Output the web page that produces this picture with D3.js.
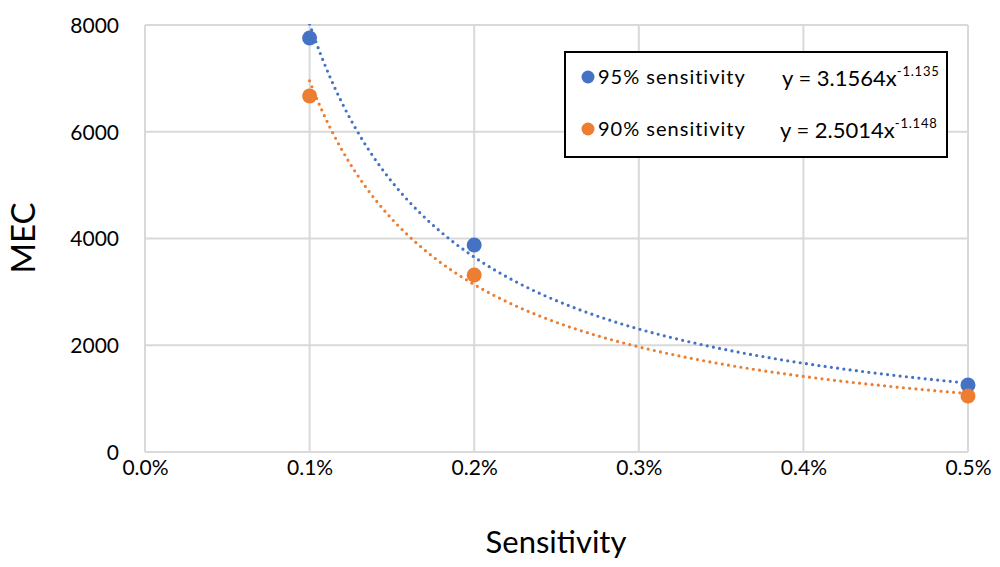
<!DOCTYPE html>
<html>
<head>
<meta charset="utf-8">
<script src="https://cdn.jsdelivr.net/npm/d3@7"></script>
<style>
  html, body { margin: 0; padding: 0; background: #fff; }
  svg { display: block; font-family: "Lato", "Open Sans", sans-serif; }
</style>
</head>
<body>
<svg id="chart" width="1000" height="567"></svg>
<script>
// Observed sensitivities (as fractions) and MEC values
const sensitivities = [0.001, 0.002, 0.005];
const mec95 = [7756, 3878, 1255];
const mec90 = [6670, 3316, 1049];

// Power-law fits y = a * x^b
const fit95 = { a: 3.1564, b: -1.135, label: "95% sensitivity", coef: "3.1564", exp: "-1.135" };
const fit90 = { a: 2.5014, b: -1.148, label: "90% sensitivity", coef: "2.5014", exp: "-1.148" };

const xTicks = [0, 0.001, 0.002, 0.003, 0.004, 0.005];
const yTicks = [0, 2000, 4000, 6000, 8000];

const blue = "#4472C4", orange = "#ED7D31", grid = "#d9d9d9";

const svg = d3.select("#chart");
const plotL = 145, plotR = 968, plotT = 25, plotB = 452;

const x = d3.scaleLinear().domain([0, 0.005]).range([plotL, plotR]);
const y = d3.scaleLinear().domain([0, 8000]).range([plotB, plotT]);

// Grid lines
svg.append("g").selectAll("line").data(xTicks).join("line")
  .attr("x1", d => x(d)).attr("x2", d => x(d))
  .attr("y1", plotT).attr("y2", plotB)
  .attr("stroke", grid).attr("stroke-width", 2);
svg.append("g").selectAll("line").data(yTicks).join("line")
  .attr("x1", plotL).attr("x2", plotR)
  .attr("y1", d => y(d)).attr("y2", d => y(d))
  .attr("stroke", grid).attr("stroke-width", 2);

// Axis tick labels
const xAxis = d3.axisBottom(x).tickValues(xTicks).tickFormat(d3.format(".1%")).tickSize(0).tickPadding(0);
const gx = svg.append("g").attr("transform", `translate(0,${plotB})`).call(xAxis);
gx.select(".domain").remove();
gx.selectAll("text").attr("font-size", 21).attr("fill", "#000")
  .attr("font-family", "Lato, sans-serif").attr("dy", null).attr("y", 23);

const yAxis = d3.axisLeft(y).tickValues(yTicks).tickFormat(d3.format("d")).tickSize(0).tickPadding(0);
const gy = svg.append("g").attr("transform", `translate(119,0)`).call(yAxis);
gy.select(".domain").remove();
gy.selectAll("text").attr("font-size", 21).attr("fill", "#000")
  .attr("font-family", "Lato, sans-serif").attr("dy", "0.35em");

// Axis titles
svg.append("text").attr("x", 556).attr("y", 553).attr("text-anchor", "middle")
  .attr("font-size", 31).attr("fill", "#000").text("Sensitivity");
svg.append("text").attr("transform", "translate(35,238) rotate(-90)").attr("text-anchor", "middle")
  .attr("font-size", 33).attr("fill", "#000").text("MEC");

// Trend lines, clipped to the plot area
svg.append("clipPath").attr("id", "plot-clip").append("rect")
  .attr("x", plotL).attr("y", plotT - 1).attr("width", plotR - plotL).attr("height", plotB - plotT + 1);

const trendXs = d3.range(0, 201).map(i => 0.001 + i * (0.004 / 200));
const line = d3.line().x(d => x(d[0])).y(d => y(d[1]));

[[fit95, blue], [fit90, orange]].forEach(([f, c]) => {
  svg.append("path")
    .datum(trendXs.map(v => [v, f.a * Math.pow(v, f.b)]))
    .attr("d", line)
    .attr("clip-path", "url(#plot-clip)")
    .attr("fill", "none").attr("stroke", c).attr("stroke-width", 3.2)
    .attr("stroke-linecap", "round").attr("stroke-dasharray", "0,6.3");
});

// Data points
[[mec95, blue], [mec90, orange]].forEach(([vals, c]) => {
  svg.append("g").selectAll("circle").data(vals).join("circle")
    .attr("cx", (d, i) => x(sensitivities[i])).attr("cy", d => y(d))
    .attr("r", 7.5).attr("fill", c);
});

// Legend
const lg = svg.append("g");
lg.append("rect").attr("x", 565).attr("y", 52).attr("width", 382).attr("height", 105)
  .attr("fill", "#fff").attr("stroke", "#000").attr("stroke-width", 2);
const rows = [[fit95, blue, 77, 84], [fit90, orange, 129, 136]];
rows.forEach(([f, c, cy, base], i) => {
  lg.append("circle").attr("cx", 588).attr("cy", cy).attr("r", 6.5).attr("fill", c);
  lg.append("text").attr("x", 598).attr("y", base).attr("font-size", 20)
    .attr("letter-spacing", 1).attr("fill", "#000").text(f.label);
  const t = lg.append("text").attr("x", i === 0 ? 782 : 780).attr("y", base + 2).attr("font-size", 22).attr("fill", "#000");
  t.append("tspan").text(`y = ${f.coef}x`);
  t.append("tspan").attr("font-size", 13).attr("letter-spacing", 0.8).attr("dy", -10).text(f.exp);
});
</script>
</body>
</html>
